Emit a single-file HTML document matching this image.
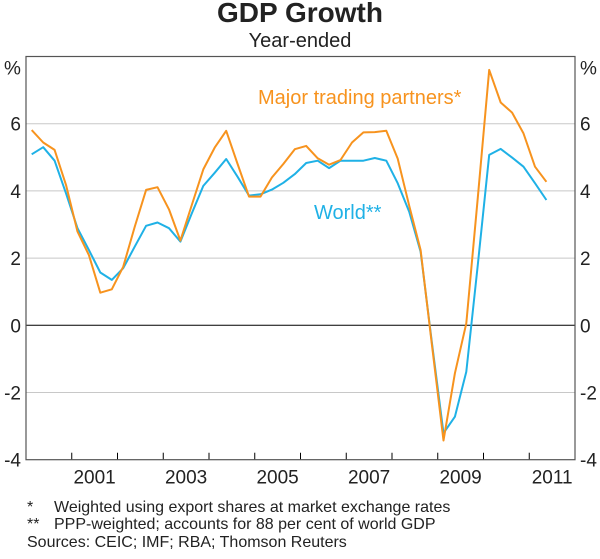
<!DOCTYPE html>
<html><head><meta charset="utf-8"><style>
body{margin:0;background:#fff;width:600px;height:554px;overflow:hidden;font-family:"Liberation Sans",Arial,sans-serif}
svg text{font-family:"Liberation Sans",Arial,sans-serif}
</style></head><body>
<svg id="chart" width="600" height="554">
<text x="300" y="22" text-anchor="middle" font-size="28" font-weight="bold" fill="#222">GDP Growth</text>
<text x="300" y="47" text-anchor="middle" font-size="20" fill="#222">Year-ended</text>
<g id="grid"></g><g id="axes"></g><g id="series"></g>
<text x="258" y="104" font-size="20" fill="#f7931e">Major trading partners*</text>
<text x="314" y="219" font-size="20" fill="#1fb1e6">World**</text>
<text x="27" y="512" font-size="16" fill="#222">*</text>
<text x="54" y="512" font-size="16" fill="#222">Weighted using export shares at market exchange rates</text>
<text x="27" y="529" font-size="16" fill="#222">**</text>
<text x="54" y="529" font-size="16" fill="#222">PPP-weighted; accounts for 88 per cent of world GDP</text>
<text x="27" y="547" font-size="16" fill="#222">Sources: CEIC; IMF; RBA; Thomson Reuters</text>
</svg>
<script>
const yTicks=[-4,-2,0,2,4,6];
const yearLabels=[2001,2003,2005,2007,2009,2011];
const startYear=2000;
const major=[5.81,5.44,5.22,4.18,2.79,2.09,0.97,1.07,1.74,2.93,4.03,4.11,3.45,2.52,3.58,4.64,5.29,5.79,4.8,3.83,3.83,4.4,4.8,5.24,5.34,4.97,4.78,4.92,5.44,5.74,5.75,5.79,4.96,3.56,2.24,-0.6,-3.43,-1.43,0.06,3.8,7.6,6.63,6.33,5.71,4.72,4.27];
const world=[5.09,5.30,4.90,3.93,2.89,2.24,1.57,1.35,1.70,2.34,2.96,3.06,2.89,2.49,3.33,4.15,4.54,4.95,4.42,3.86,3.90,4.04,4.24,4.50,4.83,4.90,4.68,4.90,4.90,4.90,4.98,4.90,4.23,3.38,2.19,-0.54,-3.21,-2.72,-1.38,1.8,5.07,5.25,4.99,4.72,4.23,3.73];
const L=26,R=575,T=56.5,B=459.7,yMin=-4,yMax=8,x0=2000,x1=2012;
const X=t=>L+(t-x0)/(x1-x0)*(R-L);
const Y=v=>B-(v-yMin)/(yMax-yMin)*(B-T);
const NS="http://www.w3.org/2000/svg";
function mk(tag,attrs,parent){const e=document.createElementNS(NS,tag);for(const k in attrs)e.setAttribute(k,attrs[k]);parent.appendChild(e);return e;}
const grid=document.getElementById('grid'),axes=document.getElementById('axes'),series=document.getElementById('series');
yTicks.forEach(v=>{
  if(v===-4)return;
  const l=mk('line',{x1:L,x2:R,y1:Y(v),y2:Y(v),stroke:v===0?'#000':'#c8c8c8','stroke-width':1},grid);
  
  
});
yTicks.forEach(v=>{
  const a=mk('text',{x:21,y:Y(v)+7,'text-anchor':'end','font-size':19,fill:'#222'},axes);a.textContent=v;
  
  
  const b=mk('text',{x:580,y:Y(v)+7,'font-size':19,fill:'#222'},axes);b.textContent=v;
  
  
});
const p1=mk('text',{x:4,y:Y(8)+18,'font-size':19,fill:'#222'},axes);p1.textContent='%';


const p2=mk('text',{x:580,y:Y(8)+18,'font-size':19,fill:'#222'},axes);p2.textContent='%';


for(let yr=2001;yr<2012;yr++){
  const t=mk('line',{x1:X(yr),x2:X(yr),y1:B,y2:B-7,stroke:'#000'},axes);
  
  
}
yearLabels.forEach(yr=>{
  const t=mk('text',{x:X(yr+0.5),y:B+24,'text-anchor':'middle','font-size':19,fill:'#222'},axes);t.textContent=yr;
  
  
});
const fr=mk('rect',{x:L,y:T,width:R-L,height:B-T,fill:'none',stroke:'#555','stroke-width':1.2},axes);


function line(vals,color,name){
  const d=vals.map((v,i)=>(i?'L':'M')+X(startYear+0.125+i*0.25).toFixed(1)+','+Y(v).toFixed(1)).join('');
  const p=mk('path',{d:d,fill:'none',stroke:color,'stroke-width':2,'stroke-linejoin':'round'},series);
  
  
}
line(world,'#1fb1e6','world-line');
line(major,'#f7931e','major-trading-partners-line');
</script>
</body></html>
